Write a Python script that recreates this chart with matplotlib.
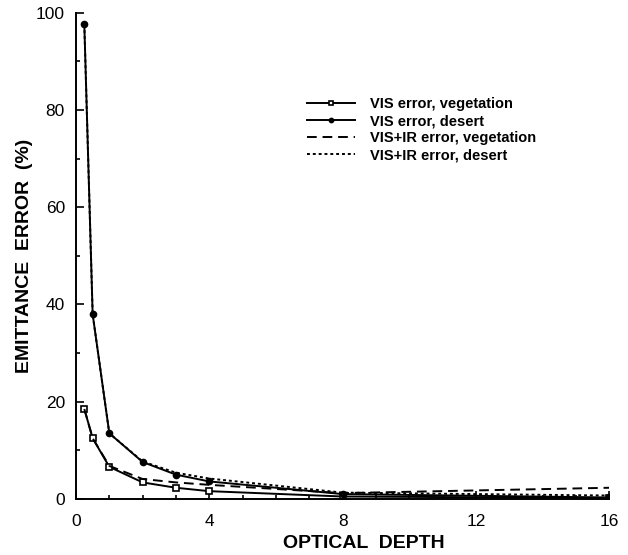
import matplotlib
matplotlib.use("Agg")
import matplotlib.pyplot as plt
from matplotlib.ticker import MultipleLocator

plt.rcParams['font.family'] = ['Liberation Sans', 'DejaVu Sans']

# optical depths at which the retrieval was run
depth = [0.25, 0.5, 1, 2, 3, 4, 8, 16]

# emittance error (%) for each case
vis_veg = [18.5, 12.5, 6.6, 3.4, 2.3, 1.6, 0.5, 0.2]
vis_desert = [97.6, 38.0, 13.5, 7.6, 5.0, 3.6, 1.0, 0.3]
visir_veg = [18.5, 12.5, 6.8, 4.1, 3.4, 2.9, 1.2, 2.3]
visir_desert = [97.6, 38.0, 13.5, 7.7, 5.4, 4.2, 1.3, 0.7]

fig = plt.figure(figsize=(6.28, 5.55), dpi=100)
ax = fig.add_axes([0.121, 0.101, 0.849, 0.876])

ax.plot(depth, vis_veg, color='black', lw=1.4, marker='s', ms=4.5,
        mfc='white', mec='black', mew=1.2, label='VIS error, vegetation')
ax.plot(depth, vis_desert, color='black', lw=1.4, marker='o', ms=4.5,
        mfc='black', mec='black', label='VIS error, desert')
ax.plot(depth, visir_veg, color='black', lw=1.4, ls=(0, (5, 3)),
        label='VIS+IR error, vegetation')
ax.plot(depth, visir_desert, color='black', lw=1.4, ls=(0, (1.5, 1.5)),
        label='VIS+IR error, desert')

ax.set_xlim(0, 16)
ax.set_ylim(0, 100)
ax.xaxis.set_major_locator(MultipleLocator(4))
ax.xaxis.set_minor_locator(MultipleLocator(1))
ax.yaxis.set_major_locator(MultipleLocator(20))
ax.yaxis.set_minor_locator(MultipleLocator(10))
ax.tick_params(which='both', direction='in', labelsize=12.5, width=1.2)
ax.tick_params(which='major', length=6)
ax.tick_params(which='minor', length=3)
ax.tick_params(axis='x', which='major', pad=11)
ax.tick_params(axis='y', which='major', pad=8)
for side in ['top', 'right']:
    ax.spines[side].set_visible(False)
for side in ['left', 'bottom']:
    ax.spines[side].set_linewidth(1.4)

ax.set_xlabel('OPTICAL  DEPTH', fontsize=14, fontweight='bold')
ax.xaxis.set_label_coords(0.54, -0.075)
ax.set_ylabel('EMITTANCE  ERROR  (%)', fontsize=14, fontweight='bold')
ax.yaxis.set_label_coords(-0.08, 0.5)

leg = ax.legend(loc='upper left', bbox_to_anchor=(0.433, 0.826), frameon=False,
                prop={'weight': 'bold', 'size': 10.5}, handlelength=3.3,
                handletextpad=1.0, labelspacing=0.2, markerscale=0.7,
                borderpad=0, borderaxespad=0)

fig.savefig('out.png', dpi=100)
